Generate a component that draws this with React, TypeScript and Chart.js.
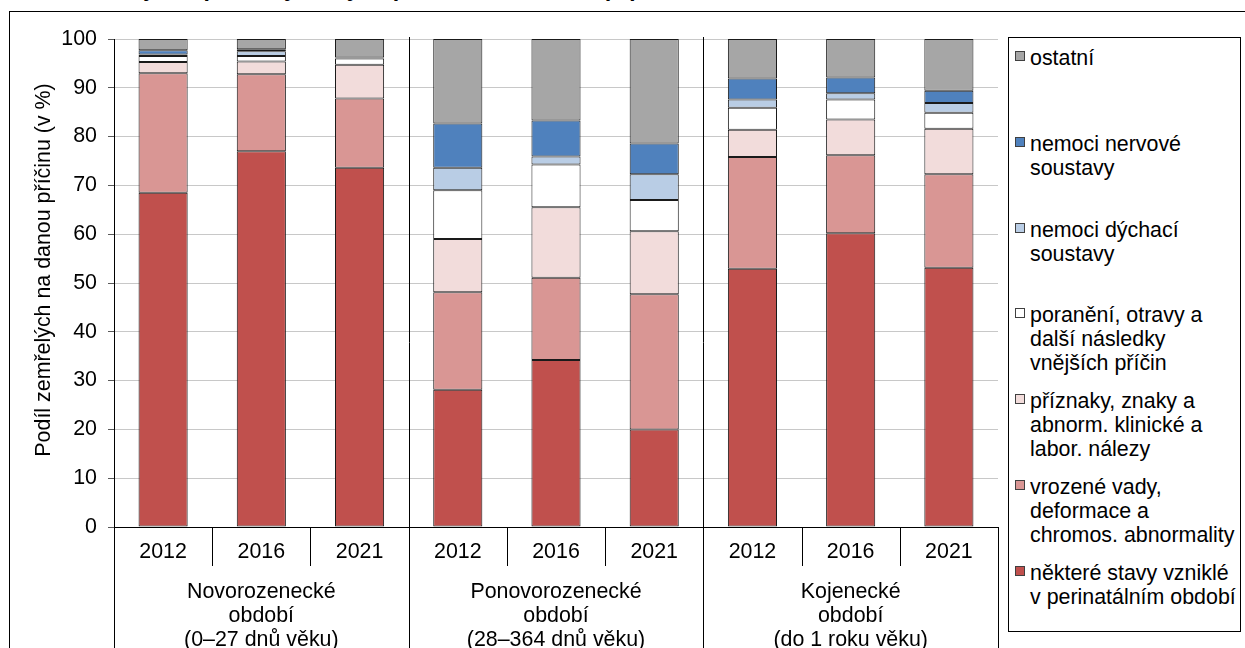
import React, { useEffect, useRef } from 'react';
import { Chart, registerables } from 'chart.js';

Chart.register(...registerables);

const FONT = '"Liberation Sans", Arial, sans-serif';

// ---- data ----
const YEARS = ['2012', '2016', '2021', '2012', '2016', '2021', '2012', '2016', '2021'];
const GROUP_LABELS = [
  ['Novorozenecké', 'období', '(0–27 dnů věku)'],
  ['Ponovorozenecké', 'období', '(28–364 dnů věku)'],
  ['Kojenecké', 'období', '(do 1 roku věku)'],
];
const Y_TICKS = [0, 10, 20, 30, 40, 50, 60, 70, 80, 90, 100];
const Y_TITLE = 'Podíl zemřelých na danou příčinu (v %)';
const TITLE = 'Zemřelí kojenci podle vybraných příčin smrti a věku (%), 2012–2021';

const PERINATAL = [68.5, 77.0, 73.6, 28.1, 34.2, 20.0, 52.9, 60.2, 53.1];
const VROZENE = [24.5, 15.8, 14.2, 20.0, 16.9, 27.7, 22.9, 16.0, 19.2];
const PRIZNAKY = [2.3, 2.6, 6.9, 10.9, 14.4, 12.9, 5.6, 7.3, 9.3];
const PORANENI = [1.2, 1.1, 1.3, 10.0, 8.8, 6.4, 4.5, 4.1, 3.3];
const DYCHACI = [0.3, 1.0, 0.1, 4.6, 1.6, 5.3, 1.7, 1.3, 2.0];
const NERVOVE = [0.9, 0.4, 0.1, 9.1, 7.4, 6.3, 4.3, 3.2, 2.5];
const OSTATNI = [2.3, 2.1, 3.8, 17.3, 16.7, 21.4, 8.1, 7.9, 10.6];

const LBL_PERINATAL = ['některé stavy vzniklé', 'v perinatálním období'];
const LBL_VROZENE = ['vrozené vady,', 'deformace a', 'chromos. abnormality'];
const LBL_PRIZNAKY = ['příznaky, znaky a', 'abnorm. klinické a', 'labor. nálezy'];
const LBL_PORANENI = ['poranění, otravy a', 'další následky', 'vnějších příčin'];
const LBL_DYCHACI = ['nemoci dýchací', 'soustavy'];
const LBL_NERVOVE = ['nemoci nervové', 'soustavy'];
const LBL_OSTATNI = ['ostatní'];

const SERIES = [
  { lines: LBL_PERINATAL, data: PERINATAL, color: '#C0504D' },
  { lines: LBL_VROZENE, data: VROZENE, color: '#D99694' },
  { lines: LBL_PRIZNAKY, data: PRIZNAKY, color: '#F2DCDB' },
  { lines: LBL_PORANENI, data: PORANENI, color: '#FFFFFF' },
  { lines: LBL_DYCHACI, data: DYCHACI, color: '#B9CDE5' },
  { lines: LBL_NERVOVE, data: NERVOVE, color: '#4F81BD' },
  { lines: LBL_OSTATNI, data: OSTATNI, color: '#A6A6A6' },
];

const W = 1245;
const H = 648;
const FS = 21.4;

const axisTablePlugin = {
  id: 'axisTable',
  afterDraw(chart: any) {
    const { ctx, chartArea } = chart;
    const xs = chart.scales.x;
    const n = YEARS.length;
    const centers = YEARS.map((_, i) => xs.getPixelForValue(i));
    const bounds = [chartArea.left];
    for (let i = 0; i < n - 1; i++) bounds.push((centers[i] + centers[i + 1]) / 2);
    bounds.push(chartArea.right);
    const px = (v: number) => Math.round(v) + 0.5;
    ctx.save();
    ctx.strokeStyle = '#000';
    ctx.lineWidth = 1;
    // x axis line
    ctx.beginPath();
    ctx.moveTo(chartArea.left, px(chartArea.bottom));
    ctx.lineTo(chartArea.right, px(chartArea.bottom));
    ctx.stroke();
    bounds.forEach((b, i) => {
      const isGroup = i % 3 === 0;
      const isEdge = i === 0 || i === n;
      const top = isGroup && !isEdge ? chartArea.top - 2 : chartArea.bottom;
      const bottom = isGroup ? chart.height : chartArea.bottom + 39;
      ctx.beginPath();
      ctx.moveTo(px(b), top);
      ctx.lineTo(px(b), bottom);
      ctx.stroke();
    });
    ctx.fillStyle = '#000';
    ctx.font = `${FS}px ${FONT}`;
    ctx.textAlign = 'center';
    ctx.textBaseline = 'middle';
    centers.forEach((c, i) => ctx.fillText(YEARS[i], c, chartArea.bottom + 25));
    GROUP_LABELS.forEach((lines, g) => {
      const c = centers[g * 3 + 1];
      lines.forEach((t, k) => ctx.fillText(t, c, chartArea.bottom + 65 + k * 24));
    });
    ctx.translate(44, (chartArea.top + chartArea.bottom) / 2 - 13);
    ctx.rotate(-Math.PI / 2);
    ctx.fillText(Y_TITLE, 0, 0);
    ctx.restore();
  },
};

export default function App() {
  const ref = useRef<HTMLCanvasElement | null>(null);

  useEffect(() => {
    if (!ref.current) return;
    const chart = new Chart(ref.current, {
      type: 'bar',
      data: {
        labels: YEARS.map((y, i) => `${y}-${i}`),
        datasets: SERIES.map((s) => ({
          label: s.lines.join(' '),
          data: s.data,
          backgroundColor: s.color,
          borderColor: '#1a1a1a',
          borderWidth: 1,
          borderSkipped: false,
          barPercentage: 0.5,
          categoryPercentage: 1.0,
        })),
      },
      plugins: [axisTablePlugin],
      options: {
        responsive: false,
        animation: false,
        events: [],
        layout: { padding: { left: 0, top: 39, right: W - 998, bottom: H - 527 } },
        plugins: {
          legend: { display: false },
          tooltip: { enabled: false },
          title: { display: false },
        },
        scales: {
          x: { stacked: true, display: false },
          y: {
            stacked: true,
            min: 0,
            max: 100,
            afterFit: (scale: any) => {
              scale.width = 114;
            },
            afterBuildTicks: (scale: any) => {
              scale.ticks = Y_TICKS.map((v) => ({ value: v }));
            },
            ticks: {
              color: '#000',
              font: { family: FONT, size: FS },
              padding: 11,
            },
            grid: {
              color: '#C8C8C8',
              lineWidth: 1,
              tickLength: 6,
              tickColor: '#595959',
            },
            border: { color: '#000', width: 1 },
          },
        },
      },
    });
    return () => chart.destroy();
  }, []);

  const itemTop = (i: number) => 46 + i * 85.8;
  const legendItems = [...SERIES].reverse();

  return (
    <div
      style={{
        position: 'fixed',
        left: 0,
        top: 0,
        width: W,
        height: H,
        overflow: 'hidden',
        background: '#fff',
        fontFamily: FONT,
      }}
    >
      <div
        style={{
          position: 'absolute',
          right: W - 766,
          top: -23,
          whiteSpace: 'nowrap',
          fontWeight: 'bold',
          fontSize: 23,
          lineHeight: '23px',
          color: '#000',
        }}
      >
        {TITLE}
      </div>
      <div
        style={{
          position: 'absolute',
          left: 9,
          top: 11,
          width: 1300,
          height: 800,
          border: '1px solid #000',
          boxSizing: 'border-box',
        }}
      />
      <canvas
        ref={ref}
        width={W}
        height={H}
        style={{ position: 'absolute', left: 0, top: 0, width: W, height: H }}
      />
      <div
        style={{
          position: 'absolute',
          left: 1008,
          top: 37,
          width: 233,
          height: 595,
          border: '1px solid #000',
          boxSizing: 'border-box',
          background: '#fff',
        }}
      />
      {legendItems.map((s, i) => (
        <React.Fragment key={i}>
          <div
            style={{
              position: 'absolute',
              left: 1015,
              top: itemTop(i) + 5,
              width: 10,
              height: 10,
              boxSizing: 'border-box',
              border: '1px solid #404040',
              background: s.color,
            }}
          />
          {s.lines.map((t, k) => (
            <div
              key={k}
              style={{
                position: 'absolute',
                left: 1030,
                top: itemTop(i) + k * 24,
                fontSize: FS,
                lineHeight: '24px',
                whiteSpace: 'nowrap',
                color: '#000',
              }}
            >
              {t}
            </div>
          ))}
        </React.Fragment>
      ))}
    </div>
  );
}
